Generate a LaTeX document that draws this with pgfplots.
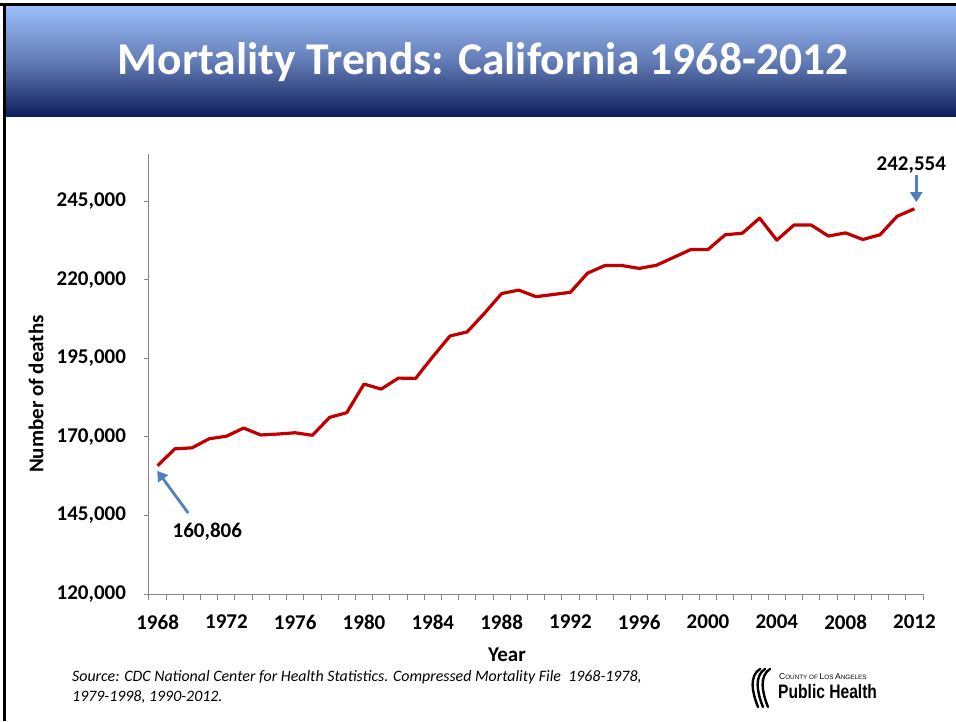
\documentclass[border=0pt]{standalone}
\usepackage{pgfplots}
\pgfplotsset{compat=1.18}
\usepackage{fontspec}
\setmainfont{Carlito}
\newfontfamily\logofont[FakeStretch=0.8]{Liberation Sans}
\newfontfamily\logosans{Liberation Sans}
\usetikzlibrary{arrows.meta}
\definecolor{redline}{RGB}{192,0,0}
\definecolor{arrowblue}{RGB}{79,129,189}
\definecolor{axgray}{RGB}{134,134,134}
\definecolor{topblue}{RGB}{155,191,250}
\definecolor{midblue}{RGB}{100,125,182}
\definecolor{botblue}{RGB}{14,30,92}
\newcommand\fsc[2]{{\fontsize{8.5}{8}\selectfont #1}{\fontsize{6.3}{8}\selectfont #2}}
\pgfplotstableread{
year deaths
1968 160806
1969 166200
1970 166500
1971 169400
1972 170200
1973 172800
1974 170600
1975 170900
1976 171300
1977 170500
1978 176200
1979 177700
1980 186800
1981 185200
1982 188700
1983 188600
1984 195500
1985 202100
1986 203400
1987 209300
1988 215600
1989 216700
1990 214600
1991 215300
1992 216000
1993 222100
1994 224500
1995 224500
1996 223600
1997 224600
1998 227100
1999 229600
2000 229600
2001 234300
2002 234800
2003 239600
2004 232600
2005 237400
2006 237400
2007 233900
2008 234900
2009 232800
2010 234300
2011 240200
2012 242554
}\mortality
\begin{document}
\begin{tikzpicture}
\fill[white] (0pt,0pt) rectangle (956pt,-721pt);
\path[use as bounding box] (0pt,0pt) rectangle (956pt,-721pt);
\shade[top color=topblue, bottom color=botblue, middle color=midblue] (5pt,-5pt) rectangle (956pt,-116pt);
\draw[black, line width=2.7pt] (0pt,-4.7pt) -- (956pt,-4.7pt);
\draw[black, line width=2.7pt] (4.7pt,-4.7pt) -- (4.7pt,-721pt);
\node[white, font=\fontsize{45.5}{52}\selectfont\bfseries] at (483pt,-62pt) {Mortality Trends: California 1968-2012};

\begin{axis}[
  at={(149pt,-594pt)}, anchor=south west,
  width=774pt, height=440pt, scale only axis,
  xmin=1967.5, xmax=2012.5, ymin=120000, ymax=260000,
  axis x line*=bottom, axis y line*=left,
  axis line style={axgray, line width=1pt, -},
  clip=false,
  tick align=outside,
  major tick length=5.5pt,
  tick style={axgray, line width=1pt},
  xtick={1967.5,1968.5,...,2012.5},
  xticklabels={},
  extra x ticks={1968,1972,1976,1980,1984,1988,1992,1996,2000,2004,2008,2012},
  extra x tick labels={1968,1972,1976,1980,1984,1988,1992,1996,2000,2004,2008,2012},
  extra x tick style={tick style={draw=none}, xticklabel style={yshift=-12pt}},
  ytick={120000,145000,170000,195000,220000,245000},
  yticklabels={{120,000},{145,000},{170,000},{195,000},{220,000},{245,000}},
  scaled y ticks=false,
  yticklabel style={xshift=-14pt},
  tick label style={font=\fontsize{21}{25}\selectfont\bfseries, text=black},
  xlabel={Year},
  xlabel style={at={(axis description cs:0.4625,-0.139)}, anchor=center, font=\fontsize{21}{25}\selectfont\bfseries},
  ylabel={Number of deaths},
  ylabel style={at={(axis description cs:-0.146,0.4545)}, anchor=center, font=\fontsize{21}{25}\selectfont\bfseries},
]
\addplot[redline, line width=3.2pt, line join=round, mark=none] table[x=year, y=deaths] {\mortality};
\draw[arrowblue, line width=2.8pt, -{Triangle[width=12pt,length=10pt]}] (axis cs:1969.78,145760) -- (axis cs:1967.98,159200);
\node[font=\fontsize{21}{25}\selectfont\bfseries] at (axis cs:1970.89,139720) {160,806};
\draw[arrowblue, line width=2.8pt, -{Triangle[width=12pt,length=10pt]}] (axis cs:2012.11,253270) -- (axis cs:2012.11,244680);
\node[font=\fontsize{21}{25}\selectfont\bfseries] at (axis cs:2011.82,256450) {242,554};
\end{axis}

\node[anchor=north west, inner sep=0pt, align=left, font=\fontsize{15.9}{20}\selectfont\itshape] at (72pt,-670pt)
  {Source: CDC National Center for Health Statistics. Compressed Mortality File~~1968-1978,\\1979-1998, 1990-2012.};

% logo
\foreach \dx in {0,5,10} {
  \draw[black, line width=2.4pt, line cap=round] (760pt+\dx pt,-669pt) .. controls (749pt+\dx pt,-676pt) and (752pt+\dx pt,-692pt) .. (758pt+\dx pt,-707pt);
}
\node[anchor=west, inner sep=0pt, font=\logosans] at (779pt,-677pt) {\fsc{C}{OUNTY OF }\fsc{L}{OS }\fsc{A}{NGELES}};
\node[anchor=west, inner sep=0pt, font=\logofont\bfseries\fontsize{19.5}{20}\selectfont] at (778pt,-692pt) {Public Health};
\end{tikzpicture}
\end{document}
